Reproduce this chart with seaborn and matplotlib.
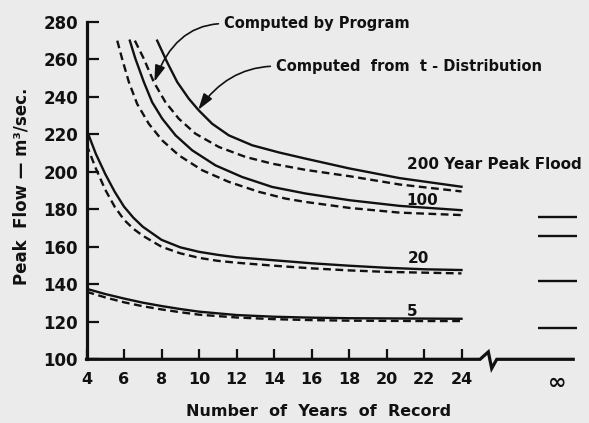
import matplotlib
matplotlib.use("Agg")
import matplotlib.pyplot as plt
import seaborn as sns
import pandas as pd

# ---- data ----
# "t" = computed from t-distribution (solid), "p" = computed by program (dashed)
t200_x = [7.77, 8.30, 8.84, 9.46, 9.99, 10.70, 11.59, 12.84, 14.26, 15.68, 18.0, 20.7, 24.0]
t200_y = [269.9, 258.4, 247.8, 238.9, 232.7, 225.6, 219.4, 214.1, 210.3, 207.0, 201.8, 196.6, 192.0]

p200_x = [6.58, 7.06, 7.59, 8.21, 8.92, 9.81, 11.06, 12.48, 13.90, 15.68, 18.04, 20.7, 24.0]
p200_y = [269.9, 260.2, 247.8, 237.1, 228.3, 220.3, 213.2, 207.9, 204.3, 201.0, 197.6, 193.2, 189.5]

t100_x = [6.31, 6.61, 7.06, 7.50, 8.04, 8.75, 9.64, 10.88, 12.30, 13.90, 15.68, 18.04, 20.7, 24.0]
t100_y = [269.9, 260.2, 247.8, 237.1, 228.3, 219.4, 211.4, 203.4, 197.2, 191.9, 188.4, 184.8, 181.8, 179.5]

p100_x = [5.64, 5.90, 6.26, 6.70, 7.32, 8.04, 8.92, 10.17, 11.59, 13.19, 14.61, 15.68, 18.04, 20.7, 24.0]
p100_y = [269.9, 260.2, 247.8, 236.2, 225.6, 216.7, 208.8, 200.8, 194.6, 189.3, 185.7, 183.9, 180.7, 178.2, 176.9]

r20_x = [4, 4.5, 5, 5.5, 6, 6.5, 7, 8, 9, 10, 11, 12, 14, 16, 18, 20, 22, 24]
t20_y = [222.5, 209.5, 198.8, 189.4, 181.4, 175.5, 170.7, 163.7, 159.7, 157.3, 155.7, 154.4, 152.8, 151.2, 149.9, 148.8, 148.0, 147.6]
p20_y = [214.5, 201.7, 190.4, 181.4, 174.4, 169.6, 165.9, 160.0, 156.5, 154.1, 152.5, 151.5, 149.9, 148.5, 147.4, 146.6, 146.2, 145.8]

r5_x = [4, 5, 6, 7, 8, 9, 10, 12, 14, 16, 18, 20, 22, 24]
t5_y = [137.6, 134.8, 132.4, 130.2, 128.4, 126.8, 125.4, 123.6, 122.7, 122.2, 121.9, 121.8, 121.7, 121.6]
p5_y = [136.0, 133.0, 130.4, 128.3, 126.6, 125.1, 123.8, 122.3, 121.4, 120.9, 120.6, 120.5, 120.4, 120.4]

inf_values = [176.0, 165.9, 141.8, 116.7]   # limits for infinite record: 200, 100, 20, 5
curve_labels = ["200 Year Peak Flood", "100", "20", "5"]

x_ticks = [4, 6, 8, 10, 12, 14, 16, 18, 20, 22, 24]
y_ticks = [100, 120, 140, 160, 180, 200, 220, 240, 260, 280]
INF_POS = 29.1

# ---- figure ----
BG = "#ebebeb"
INK = "#111111"
fig = plt.figure(figsize=(5.89, 4.23), dpi=100, facecolor=BG)
ax = fig.add_axes([86.5 / 589, (423 - 359.3) / 423, 495 / 589, (359.3 - 21.7) / 423])
ax.set_facecolor(BG)

series = [
    (t200_x, t200_y, "solid"), (p200_x, p200_y, "dash"),
    (t100_x, t100_y, "solid"), (p100_x, p100_y, "dash"),
    (r20_x, t20_y, "solid"), (r20_x, p20_y, "dash"),
    (r5_x, t5_y, "solid"), (r5_x, p5_y, "dash"),
]
for xs, ys, kind in series:
    df = pd.DataFrame({"years": xs, "flow": ys})
    if kind == "solid":
        sns.lineplot(data=df, x="years", y="flow", ax=ax, color=INK, lw=1.7,
                     estimator=None, solid_joinstyle="round")
    else:
        sns.lineplot(data=df, x="years", y="flow", ax=ax, color=INK, lw=1.7,
                     estimator=None, linestyle=(0, (3.3, 1.9)))

# limits at infinity
ax.hlines(inf_values, 28.1, 30.14, colors=INK, lw=1.7, clip_on=False)

ax.set_xlim(4, 30.4)
ax.set_ylim(100, 280)

# axes styling
for s in ["top", "right", "bottom"]:
    ax.spines[s].set_visible(False)
ax.spines["left"].set_linewidth(2.3)
ax.spines["left"].set_color(INK)

# bottom axis with break
tr = ax.get_xaxis_transform()
ax.plot([4, 24.99, 25.43, 25.61, 25.88, 29.96], [0, 0, 0.022, -0.027, 0, 0],
        transform=tr, color=INK, lw=2.3, clip_on=False, solid_joinstyle="miter")

ax.set_xticks(x_ticks + [INF_POS])
ax.set_xticklabels([str(v) for v in x_ticks] + ["\u221e"])
ax.set_yticks(y_ticks)
ax.set_yticklabels([str(v) for v in y_ticks])
ax.tick_params(axis="x", direction="in", length=7, width=1.6, color=INK, pad=9.5,
               labelsize=11.5, labelcolor=INK)
ax.tick_params(axis="y", direction="in", length=8.5, width=1.6, color=INK, pad=6,
               labelsize=12, labelcolor=INK)
ax.xaxis.get_major_ticks()[-1].tick1line.set_visible(False)
for lab in ax.get_xticklabels() + ax.get_yticklabels():
    lab.set_fontweight("bold")
ax.get_xticklabels()[-1].set_fontsize(16)
ax.set_xlabel("")
ax.set_ylabel("")

fig.text(318.5 / 589, 1 - 411 / 423, "Number  of  Years  of  Record", ha="center",
         va="center", fontsize=11.5, fontweight="bold", color=INK)
fig.text(22 / 589, 1 - 186 / 423, "Peak  Flow \u2014 m\u00b3/sec.", ha="center",
         va="center", rotation=90, fontsize=12, fontweight="bold", color=INK)

# curve labels
ax.text(21.08, 203.6, curve_labels[0], ha="left", va="center", fontsize=11,
        fontweight="bold", color=INK)
ax.text(21.9, 184.9, curve_labels[1], ha="center", va="center", fontsize=11,
        fontweight="bold", color=INK)
ax.text(21.7, 153.8, curve_labels[2], ha="center", va="center", fontsize=11,
        fontweight="bold", color=INK)
ax.text(21.35, 125.7, curve_labels[3], ha="center", va="center", fontsize=11,
        fontweight="bold", color=INK)

# annotations
ax.annotate("Computed by Program", xy=(7.62, 248.0), xytext=(11.33, 279.0),
            ha="left", va="center", fontsize=10.5, fontweight="bold", color=INK,
            annotation_clip=False,
            arrowprops=dict(arrowstyle="-|>,head_length=0.7,head_width=0.22",
                            connectionstyle="angle3,angleA=0,angleB=70",
                            relpos=(0, 0.5), color=INK, lw=1.2, shrinkA=2, shrinkB=0,
                            mutation_scale=14))
ax.annotate("Computed  from  t - Distribution", xy=(9.96, 233.0), xytext=(14.1, 256.3),
            ha="left", va="center", fontsize=10.5, fontweight="bold", color=INK,
            annotation_clip=False,
            arrowprops=dict(arrowstyle="-|>,head_length=0.7,head_width=0.22",
                            connectionstyle="angle3,angleA=0,angleB=55",
                            relpos=(0, 0.5), color=INK, lw=1.2, shrinkA=2, shrinkB=0,
                            mutation_scale=14))

fig.savefig("out.png", dpi=100, facecolor=BG)
